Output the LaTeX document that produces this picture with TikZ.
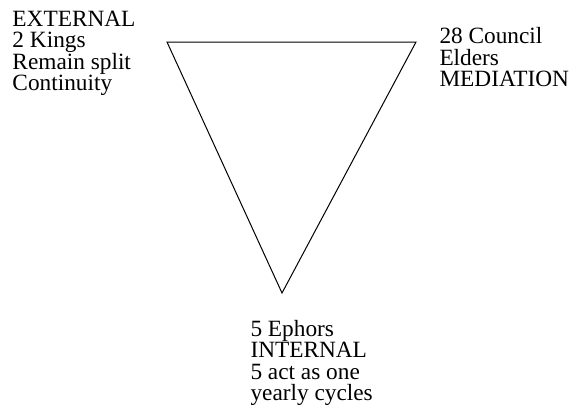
\documentclass[tikz,border=0pt]{standalone}
\usepackage{fontspec}
\setmainfont{Liberation Serif}
\begin{document}
\begin{tikzpicture}[x=1pt,y=-1pt,
  lbl/.style={inner sep=0pt,outer sep=0pt,align=left,font=\fontsize{23.3}{21.5}\selectfont,anchor=base west},
  edge/.style={draw=black,line width=1pt,line join=miter}]
\useasboundingbox (0,0) rectangle (577,408);
\coordinate (tl) at (167,42);
\coordinate (tr) at (416,42);
\coordinate (bt) at (282,293);
\draw[edge] (tl) -- (tr) -- (bt) -- cycle;
\node[lbl] (ext) at (12.5,90.5) {EXTERNAL\\2 Kings\\Remain split\\Continuity};
\node[lbl] (med) at (439.5,86.5) {28 Council\\Elders\\MEDIATION};
\node[lbl] (int) at (250.5,400.5) {5 Ephors\\INTERNAL\\5 act as one\\yearly cycles};
\end{tikzpicture}
\end{document}
